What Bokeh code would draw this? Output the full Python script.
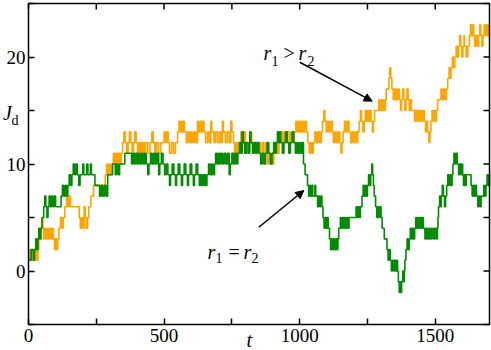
from bokeh.plotting import figure
from bokeh.models import (ColumnDataSource, LinearAxis, FixedTicker, Range1d,
                          Label, Arrow, NormalHead, BoxAnnotation)
from bokeh.embed import file_html
from bokeh.resources import INLINE

# ---- data (t, J_d) breakpoints of the step curves ----
orange_steps = [
    (0,1),(4,2),(8,1),(12,2),(16,1),(20,2),(24,1),(28,2),(32,1),(35,2),(38,3),(44,4),(50,5),(53,4),
    (56,3),(60,4),(64,3),(70,4),(74,3),(80,4),(84,3),(88,4),(92,3),(96,2),(100,3),(104,2),(108,3),
    (112,4),(118,5),(124,4),(128,5),(134,6),(140,7),(146,6),(150,7),(155,6),(187,5),(191,4),(196,5),
    (200,4),(205,6),(209,5),(213,4),(218,5),(222,6),(230,7),(240,8),(283,9),(288,10),(293,9),(298,10),
    (303,9),(308,10),(313,11),(318,10),(322,11),(327,10),(332,11),(337,10),(342,11),(347,12),(352,13),
    (357,12),(362,11),(367,12),(372,13),(377,12),(382,11),(387,12),(392,13),(397,12),(402,11),(408,12),
    (414,11),(420,12),(426,11),(432,12),(440,11),(448,12),(455,13),(460,12),(466,11),(472,12),(480,11),
    (488,12),(500,13),(505,12),(510,13),(515,12),(520,11),(528,12),(535,11),(542,12),(550,13),(555,14),
    (559,13),(563,14),(567,13),(571,14),(575,13),(582,12),(588,13),(594,12),(600,13),(606,12),(612,13),
    (618,12),(623,14),(628,13),(633,14),(638,13),(643,14),(647,13),(653,12),(660,13),(666,12),(672,14),
    (676,13),(684,12),(690,13),(697,12),(704,13),(710,12),(715,14),(719,13),(726,12),(733,13),(740,12),
    (746,14),(750,13),(756,12),(760,11),(765,12),(770,11),(776,12),(783,13),(788,12),(794,13),(800,12),
    (806,11),(812,12),(818,13),(823,12),(830,11),(836,12),(842,11),(848,12),(855,11),(862,12),(868,11),
    (875,12),(881,10),(885,11),(890,10),(895,11),(900,10),(905,11),(912,12),(918,11),(924,12),(930,13),
    (936,12),(942,13),(948,12),(955,13),(962,12),(968,13),(975,12),(980,13),(986,14),(990,13),(994,14),
    (998,13),(1002,14),(1006,13),(1010,14),(1015,13),(1020,14),(1025,13),(1030,12),(1035,11),(1040,12),
    (1045,11),(1050,12),(1056,13),(1062,12),(1068,13),(1074,12),(1080,13),(1084,14),(1089,15),(1093,14),
    (1098,13),(1103,14),(1108,13),(1114,14),(1120,13),(1124,12),(1130,13),(1136,12),(1142,13),(1148,12),
    (1152,11),(1156,12),(1160,13),(1165,14),(1170,13),(1176,14),(1182,13),(1188,12),(1194,13),(1200,12),
    (1206,13),(1211,12),(1214,13),(1219,14),(1224,15),(1228,14),(1233,13),(1238,14),(1242,15),(1246,14),
    (1250,15),(1254,14),(1258,15),(1263,14),(1268,13),(1272,14),(1276,15),(1292,16),(1296,15),(1300,16),
    (1304,15),(1308,16),(1312,15),(1316,16),(1319,17),(1329,18),(1332,19),(1336,18),(1340,17),(1345,16),
    (1350,17),(1356,16),(1362,17),(1368,16),(1372,15),(1376,16),(1380,17),(1384,16),(1388,15),(1392,16),
    (1396,17),(1400,16),(1404,15),(1408,16),(1412,15),(1424,14),(1428,15),(1432,14),(1436,15),(1440,14),
    (1444,15),(1448,14),(1454,15),(1460,14),(1464,13),(1468,14),(1472,13),(1476,12),(1480,13),(1484,14),
    (1488,15),(1492,14),(1496,15),(1500,14),(1504,15),(1509,16),(1521,17),(1526,16),(1531,17),(1536,16),
    (1541,17),(1546,18),(1551,19),(1555,18),(1558,19),(1563,20),(1568,19),(1572,20),(1577,21),(1582,20),
    (1586,21),(1590,22),(1594,21),(1598,20),(1602,21),(1606,22),(1608,21),(1614,20),(1620,21),(1626,22),
    (1630,23),(1634,22),(1638,23),(1642,22),(1646,21),(1651,22),(1656,21),(1660,22),(1664,23),(1668,22),
    (1672,21),(1676,22),(1680,23),(1684,22),(1688,23),(1692,22),(1696,23),(1700,22),
]

green_steps = [
    (0,1),(10,2),(18,1),(22,2),(27,3),(31,2),(35,3),(38,4),(42,3),(46,4),(50,5),(56,6),(60,7),(64,6),
    (68,5),(72,6),(76,7),(80,6),(85,7),(90,6),(95,7),(100,6),(120,7),(125,8),(130,7),(135,8),(140,7),
    (145,8),(150,9),(155,8),(160,9),(165,10),(170,9),(175,10),(180,9),(185,8),(190,9),(200,10),(204,9),
    (215,10),(219,9),(228,10),(232,9),(245,8),(262,7),(268,8),(274,7),(280,8),(286,7),(292,9),(310,10),
    (320,9),(324,10),(330,9),(336,10),(355,11),(380,10),(385,11),(390,10),(395,11),(400,10),(405,11),
    (410,10),(416,11),(422,10),(428,11),(434,10),(440,9),(444,10),(450,11),(456,10),(462,11),(468,10),
    (474,11),(480,9),(484,10),(490,11),(496,10),(502,9),(508,10),(514,9),(520,8),(524,9),(530,10),
    (536,9),(542,8),(546,9),(552,10),(558,9),(564,8),(568,9),(574,10),(580,9),(586,8),(590,9),(596,10),
    (602,9),(608,8),(612,9),(618,10),(624,9),(630,8),(634,9),(638,8),(642,9),(646,8),(650,9),(654,8),
    (658,9),(664,10),(670,9),(676,10),(680,9),(686,10),(690,11),(695,10),(700,11),(705,10),(710,11),
    (716,10),(722,11),(728,10),(734,11),(740,9),(744,10),(750,11),(756,10),(762,11),(768,10),(772,11),
    (778,12),(783,11),(788,13),(792,12),(797,11),(803,12),(810,11),(816,13),(820,12),(826,11),(832,12),
    (838,11),(844,12),(850,11),(856,10),(862,11),(868,10),(874,11),(880,12),(886,11),(892,10),(898,11),
    (904,12),(910,11),(914,12),(918,13),(922,12),(926,13),(930,12),(936,11),(942,12),(948,13),(954,12),
    (960,11),(966,12),(972,13),(978,12),(984,11),(990,12),(995,11),(1000,12),(1005,11),(1010,12),
    (1014,10),(1020,9),(1029,8),(1033,7),(1037,8),(1041,7),(1045,8),(1048,7),(1056,8),(1059,7),(1066,6),
    (1070,7),(1074,6),(1078,7),(1082,6),(1086,5),(1090,4),(1094,5),(1098,4),(1102,5),(1105,4),(1110,3),
    (1114,2),(1118,3),(1122,2),(1126,3),(1130,2),(1134,3),(1138,2),(1141,3),(1144,4),(1150,5),(1154,4),
    (1158,5),(1162,4),(1166,5),(1170,4),(1174,5),(1178,4),(1182,5),(1208,6),(1212,5),(1216,6),(1220,5),
    (1224,6),(1230,7),(1234,8),(1238,7),(1242,8),(1246,7),(1250,8),(1254,9),(1258,8),(1262,9),(1266,10),
    (1269,9),(1272,8),(1275,7),(1280,6),(1284,5),(1288,6),(1292,5),(1296,6),(1300,5),(1304,4),(1312,3),
    (1322,2),(1326,1),(1330,2),(1334,1),(1338,0),(1342,1),(1346,0),(1350,1),(1354,0),(1358,1),(1361,0),
    (1364,-1),(1367,-2),(1370,-1),(1373,-2),(1376,-1),(1380,0),(1383,-1),(1386,0),(1388,1),(1392,2),
    (1396,3),(1400,2),(1404,3),(1408,4),(1412,3),(1416,4),(1420,3),(1424,4),(1428,5),(1432,4),(1436,5),
    (1440,4),(1444,5),(1448,4),(1452,5),(1456,4),(1462,3),(1466,4),(1470,3),(1476,4),(1480,3),(1486,4),
    (1492,3),(1498,4),(1504,3),(1508,4),(1510,5),(1512,6),(1516,7),(1519,6),(1522,7),(1526,8),(1530,7),
    (1534,6),(1538,7),(1542,8),(1546,9),(1550,8),(1554,9),(1558,8),(1562,9),(1565,10),(1569,11),
    (1573,10),(1577,11),(1581,10),(1586,9),(1590,10),(1594,9),(1598,10),(1601,9),(1604,8),(1608,9),
    (1612,8),(1614,9),(1632,8),(1636,7),(1640,8),(1644,7),(1648,8),(1652,7),(1657,6),(1661,7),(1665,6),
    (1669,7),(1679,8),(1683,7),(1687,8),(1691,9),(1695,8),(1700,9),
]

x_major_ticks = [0, 500, 1000, 1500]
x_minor_ticks = [250, 750, 1250]
y_major_ticks = [0, 10, 20]
y_minor_ticks = [-5, 5, 15, 25]

T_MIN, T_MAX = 0, 1700
J_MIN, J_MAX = -5, 25

ORANGE = "#FFA500"
GREEN = "#008B00"
SERIF = "Liberation Serif"

# ---- layout: the frame fills the whole canvas; the axes box sits inside it ----
W, H = 491, 350
BOX_L, BOX_R = 28, 489          # canvas px of the axes box
BOX_T, BOX_B = 3, 324
PX_T = (BOX_R - BOX_L) / (T_MAX - T_MIN)
PX_J = (BOX_B - BOX_T) / (J_MAX - J_MIN)
x_range = Range1d(T_MIN - BOX_L / PX_T, T_MAX + (W - BOX_R) / PX_T)
y_range = Range1d(J_MIN - (H - BOX_B) / PX_J, J_MAX + BOX_T / PX_J)
TICK = 6

src_o = ColumnDataSource(dict(t=[a for a, b in orange_steps], j=[b for a, b in orange_steps]))
src_g = ColumnDataSource(dict(t=[a for a, b in green_steps], j=[b for a, b in green_steps]))

p = figure(width=W, height=H, x_range=x_range, y_range=y_range,
           output_backend="svg", toolbar_location=None,
           x_axis_location=None, y_axis_location=None,
           min_border=0, min_border_left=0, min_border_right=0,
           min_border_top=0, min_border_bottom=0)
p.grid.visible = False
p.outline_line_color = None
p.background_fill_color = "white"
p.border_fill_color = "white"

p.step(x="t", y="j", source=src_o, mode="after", line_color=ORANGE, line_width=1.6)
p.step(x="t", y="j", source=src_g, mode="after", line_color=GREEN, line_width=1.6)

def style(ax):
    ax.axis_line_color = None
    ax.major_tick_in = TICK
    ax.major_tick_out = 0
    ax.minor_tick_in = TICK
    ax.minor_tick_out = 0
    ax.major_tick_line_width = 1.5
    ax.minor_tick_line_width = 1.5
    ax.major_tick_line_color = "black"
    ax.minor_tick_line_color = "black"
    ax.major_label_text_font = SERIF
    ax.major_label_text_color = "black"
    ax.major_label_text_font_size = "19px"

xax = LinearAxis(ticker=FixedTicker(ticks=x_major_ticks, minor_ticks=x_minor_ticks),
                 fixed_location=J_MIN)
style(xax)
xax.major_label_standoff = 4
p.add_layout(xax, "below")
yax = LinearAxis(ticker=FixedTicker(ticks=y_major_ticks, minor_ticks=y_minor_ticks),
                 fixed_location=T_MIN)
style(yax)
yax.major_label_standoff = 3
p.add_layout(yax, "left")

# ticks on the top and right edges of the box
top_t = x_major_ticks + x_minor_ticks
right_j = y_major_ticks + y_minor_ticks
p.segment(x0=top_t, y0=[J_MAX] * len(top_t), x1=top_t, y1=[J_MAX - TICK / PX_J] * len(top_t),
          line_color="black", line_width=1.5)
p.segment(x0=[T_MAX] * len(right_j), y0=right_j, x1=[T_MAX - TICK / PX_T] * len(right_j), y1=right_j,
          line_color="black", line_width=1.5)

p.add_layout(BoxAnnotation(left=T_MIN, right=T_MAX, bottom=J_MIN, top=J_MAX,
                           fill_alpha=0, line_color="black", line_width=1.5, line_alpha=1))

def lab(x, y, text, size, italic=False):
    p.add_layout(Label(x=x, y=y, text=text, text_font=SERIF,
                       text_font_size=size, text_font_style="italic" if italic else "normal",
                       text_color="black", text_align="left", text_baseline="alphabetic"))

# r1 > r2
lab(866.6, 20.33, "r", "20px", True)
lab(896.0, 19.67, "1", "14px")
lab(940.3, 20.33, ">", "20px")
lab(995.6, 20.33, "r", "20px", True)
lab(1028.8, 19.67, "2", "14px")
# r1 = r2
lab(660.0, 1.82, "r", "20px", True)
lab(689.6, 1.17, "1", "14px")
lab(737.5, 1.82, "=", "20px")
lab(792.8, 1.82, "r", "20px", True)
lab(822.3, 1.17, "2", "14px")
# axis titles
lab(-94, 14.72, "J", "20px", True)
lab(-63, 14.07, "d", "14px")
lab(804, -6.45, "t", "20px", True)

p.add_layout(Arrow(x_start=1000.4, y_start=19.51, x_end=1267.4, y_end=15.87, line_width=1.5,
                   end=NormalHead(size=8, fill_color="black", line_color="black")))
p.add_layout(Arrow(x_start=849.2, y_start=4.09, x_end=1015.2, y_end=7.52, line_width=1.5,
                   end=NormalHead(size=8, fill_color="black", line_color="black")))

open("out.html", "w").write(file_html(p, INLINE))
